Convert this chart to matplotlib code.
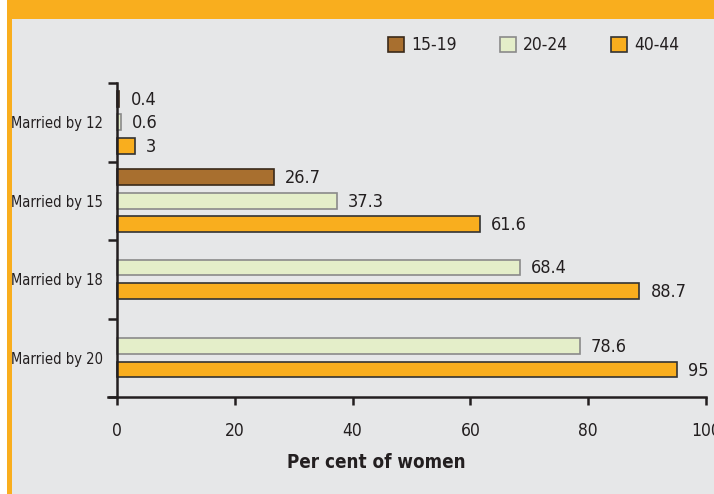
import matplotlib.pyplot as plt
from matplotlib.patches import Rectangle, Patch

plt.rcParams['font.family'] = ['DejaVu Sans']
plt.rcParams['font.stretch'] = 'condensed'

# Data
categories = ['Married by 12', 'Married by 15', 'Married by 18', 'Married by 20']
series_names = ['15-19', '20-24', '40-44']
age_15_19 = [0.4, 26.7, None, None]
age_20_24 = [0.6, 37.3, 68.4, 78.6]
age_40_44 = [3, 61.6, 88.7, 95]
x_ticks = [0, 20, 40, 60, 80, 100]

colors = ['#A86F2F', '#E4EEC9', '#F9AE1E']
edges = ['#3A2A1A', '#8A8A8A', '#333333']
ink = '#231F20'


def main():
	fig = plt.figure(figsize=(7.14, 4.94), dpi=100)
	W, H = 714.0, 494.0

	# frame: orange band on top and left, gray panel
	fig.patches.append(Rectangle((7 / W, 0), 1, 1, transform=fig.transFigure,
		facecolor='#F9AE1E', edgecolor='none', zorder=-3))
	fig.patches.append(Rectangle((12 / W, 0), 1, 1 - 19 / H, transform=fig.transFigure,
		facecolor='#E6E7E8', edgecolor='none', zorder=-2))

	ax = fig.add_axes([108.2 / W, 1 - 397 / H, (706 - 108.2) / W, 314 / H])
	ax.set_facecolor('none')

	data = [age_15_19, age_20_24, age_40_44]
	step = 0.3
	height = 0.2
	for c in range(len(categories)):
		present = [s for s in range(3) if data[s][c] is not None]
		n = len(present)
		for i, s in enumerate(present):
			y = c + (i - (n - 1) / 2.0) * step
			v = data[s][c]
			ax.barh(y, v, height=height, color=colors[s], edgecolor=edges[s], linewidth=1.2, zorder=3)
			ax.annotate(('%g' % v), xy=(v, y), xytext=(11, -1), textcoords='offset pixels',
				ha='left', va='center', fontsize=13, color=ink)

	ax.set_xlim(-1.5, 100)
	ax.set_ylim(3.5, -0.5)

	ax.spines['top'].set_visible(False)
	ax.spines['right'].set_visible(False)
	ax.spines['left'].set_position(('data', 0))
	for sp in ['left', 'bottom']:
		ax.spines[sp].set_color(ink)
		ax.spines[sp].set_linewidth(1.8)
		ax.spines[sp].set_zorder(4)

	ax.set_xticks(x_ticks)
	ax.set_xticklabels([str(t) for t in x_ticks])
	ax.tick_params(axis='x', direction='out', length=6, width=1.8, color=ink,
		labelsize=12.5, labelcolor=ink, pad=12)

	ax.set_yticks([-0.5, 0.5, 1.5, 2.5, 3.5])
	ax.set_yticklabels([])
	ax.tick_params(axis='y', which='major', direction='out', length=6.5, width=1.8, color=ink)
	ax.set_yticks(range(len(categories)), minor=True)
	ax.set_yticklabels(categories, minor=True)
	ax.tick_params(axis='y', which='minor', length=0, labelsize=10.5, labelcolor=ink, pad=10)

	fig.text(376 / W, 1 - 462 / H, 'Per cent of women', ha='center', va='center',
		fontsize=13.5, fontweight='bold', color=ink)

	handles = [Patch(facecolor=colors[i], edgecolor=edges[i], linewidth=1.2) for i in range(3)]
	fig.legend(handles, series_names, loc='center left', bbox_to_anchor=(388 / W, 1 - 45.5 / H),
		ncol=3, frameon=False, fontsize=12.5, handlelength=0.95, handleheight=0.95,
		handletextpad=0.4, columnspacing=2.45, borderpad=0, borderaxespad=0, labelcolor=ink)

	fig.savefig('out.png', dpi=100)


if __name__ == "__main__":
	main()
